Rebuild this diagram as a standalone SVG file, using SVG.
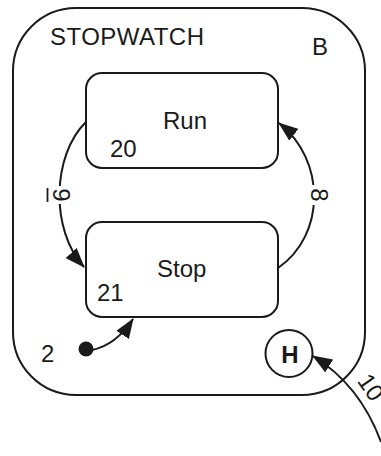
<svg xmlns="http://www.w3.org/2000/svg" width="381" height="456" viewBox="0 0 381 456">
  <style>
    .box { fill: #fff; stroke: #1a1a1a; stroke-width: 2; }
    .lbl { font-family: "Liberation Sans", Arial, sans-serif; font-size: 24px; fill: #1a1a1a; }
    .mid { text-anchor: middle; }
    .edge { fill: none; stroke: #1a1a1a; stroke-width: 2; }
    .gap { fill: #fff; stroke: none; }
  </style>
  <defs>
    <marker id="arrow" markerUnits="userSpaceOnUse" viewBox="0 0 20 15" markerWidth="20" markerHeight="15" refX="19" refY="7.5" orient="auto">
      <path d="M0,0 L20,7.5 L0,15 Z" fill="#1a1a1a"/>
    </marker>
  </defs>
  <rect width="381" height="456" fill="#fff"/>

  <!-- superstate -->
  <g id="stopwatch">
    <rect class="box" x="13" y="8" width="352" height="387" rx="63" ry="63"/>
    <text class="lbl" x="50" y="45" textLength="154">STOPWATCH</text>
    <text class="lbl" x="312" y="55">B</text>
  </g>

  <g id="run">
    <rect class="box" x="86" y="73" width="192" height="95" rx="16" ry="16"/>
    <text class="lbl" x="163" y="129">Run</text>
    <text class="lbl" x="110" y="157">20</text>
  </g>

  <g id="stop">
    <rect class="box" x="86" y="222" width="192" height="95" rx="16" ry="16"/>
    <text class="lbl" x="157" y="277">Stop</text>
    <text class="lbl" x="97" y="301">21</text>
  </g>

  <g id="history">
    <circle class="box" cx="289" cy="353.5" r="23.5"/>
    <text class="lbl mid" x="290" y="363" font-weight="bold">H</text>
  </g>

  <g id="initial">
    <circle cx="86" cy="349" r="7.5" fill="#1a1a1a"/>
    <text class="lbl" x="41" y="362">2</text>
  </g>

  <!-- transitions -->
  <g id="connectors">
    <path class="edge" d="M86,122 C52,155 50,230 84,267" marker-end="url(#arrow)"/>
    <path class="edge" d="M278,268 C326,235 326,160 279,123" marker-end="url(#arrow)"/>
    <path class="edge" d="M92,350 Q116,345 133,319" marker-end="url(#arrow)"/>
    <path class="edge" d="M381,442 Q360,385 313,356" marker-end="url(#arrow)"/>

    <g transform="translate(61.5,195) rotate(90)">
      <rect class="gap" x="-9" y="-10" width="18" height="20"/>
      <text class="lbl mid" x="0" y="8.5">9</text>
      <line x1="-7" y1="14" x2="7" y2="14" stroke="#1a1a1a" stroke-width="1.8"/>
    </g>
    <g transform="translate(319,195) rotate(90)">
      <rect class="gap" x="-10" y="-10" width="20" height="20"/>
      <text class="lbl mid" x="0" y="8.5">8</text>
    </g>
    <g transform="translate(371,387) rotate(55)">
      <text class="lbl mid" x="0" y="8.5">10</text>
    </g>
  </g>
</svg>
